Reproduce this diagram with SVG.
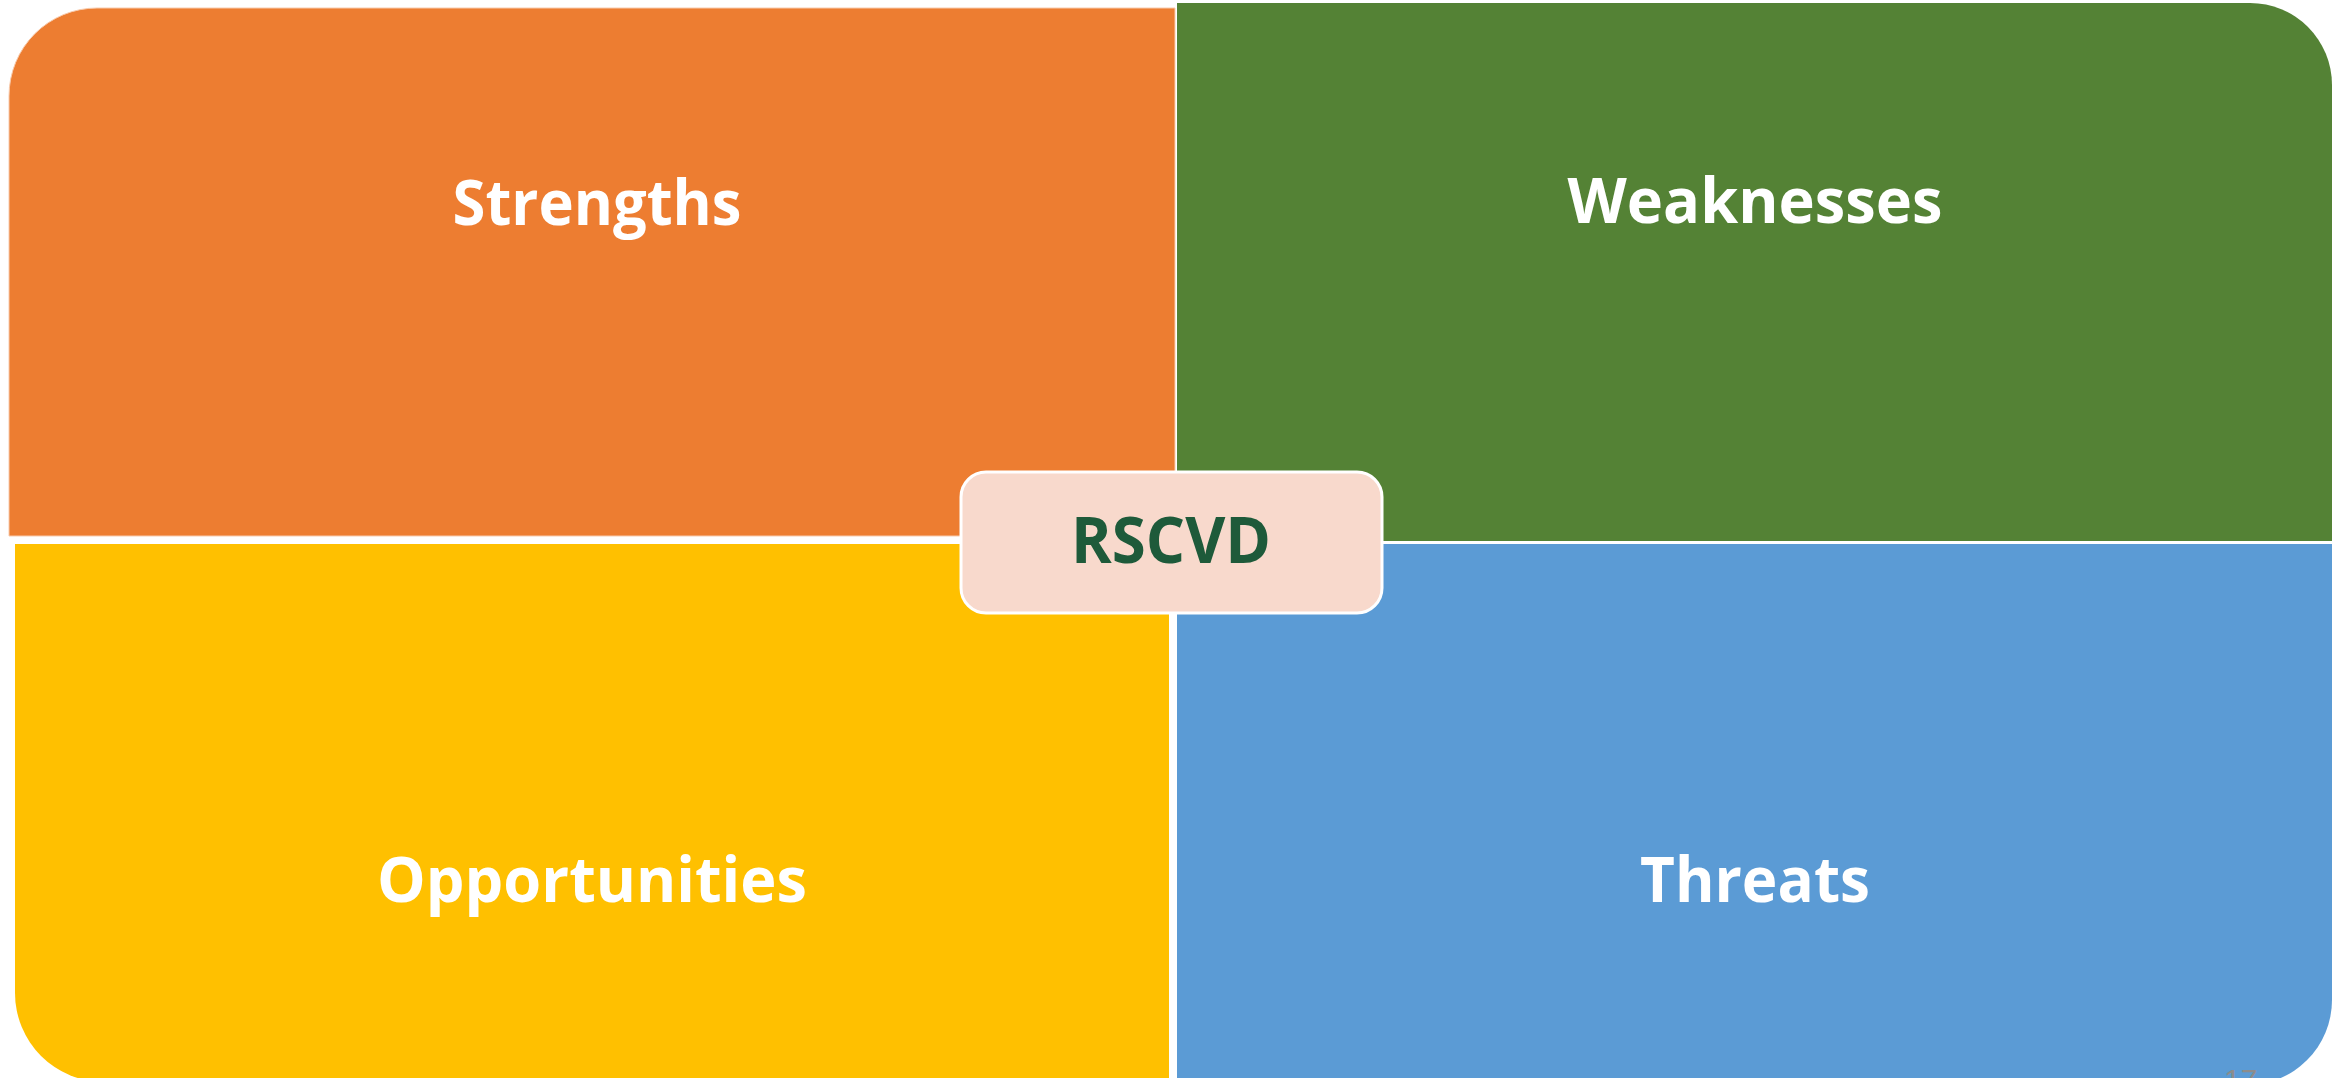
<svg xmlns="http://www.w3.org/2000/svg" width="2349" height="1078" viewBox="0 0 2349 1078">
<style>
.lbl{font-family:"Open Sans",Lato,"Liberation Sans",sans-serif;font-weight:bold;fill:#ffffff;text-anchor:middle;font-size:62px}
.ctr{font-family:"Open Sans",Lato,"Liberation Sans",sans-serif;font-weight:bold;fill:#1E5A3A;text-anchor:middle;font-size:64px}
.pg{font-family:"Liberation Sans",sans-serif;fill:#8C8C8C;font-size:30px}
</style>
<rect width="2349" height="1078" fill="#ffffff"/>
<g id="strengths">
<path d="M9,96 A88,88 0 0 1 97,8 L1175,8 L1175,536 L9,536 Z" fill="#ED7D31" stroke="#F8CBAD" stroke-width="1"/>
<text class="lbl" x="597" y="225" textLength="289" lengthAdjust="spacingAndGlyphs">Strengths</text>
</g>
<g id="weaknesses">
<path d="M1177,3 L2250,3 A82,82 0 0 1 2332,85 L2332,541 L1177,541 Z" fill="#548235"/>
<text class="lbl" x="1755" y="223" textLength="375" lengthAdjust="spacingAndGlyphs">Weaknesses</text>
</g>
<g id="opportunities">
<path d="M15,544 L1169,544 L1169,1082 L104,1082 A89,89 0 0 1 15,993 Z" fill="#FFC000"/>
<text class="lbl" x="592" y="902" textLength="430" lengthAdjust="spacingAndGlyphs">Opportunities</text>
</g>
<g id="threats">
<path d="M1177,544 L2332,544 L2332,1000 A85,85 0 0 1 2247,1085 L1177,1085 Z" fill="#5B9BD5"/>
<text class="lbl" x="1755" y="902" textLength="230" lengthAdjust="spacingAndGlyphs">Threats</text>
</g>
<g id="rscvd">
<rect x="961" y="472" width="421" height="141" rx="25" ry="25" fill="#F8D9CC" stroke="#ffffff" stroke-width="3"/>
<text class="ctr" x="1171" y="563" textLength="200" lengthAdjust="spacingAndGlyphs">RSCVD</text>
</g>
<g id="page-number">
<text class="pg" x="2224" y="1090">17</text>
</g>
</svg>
